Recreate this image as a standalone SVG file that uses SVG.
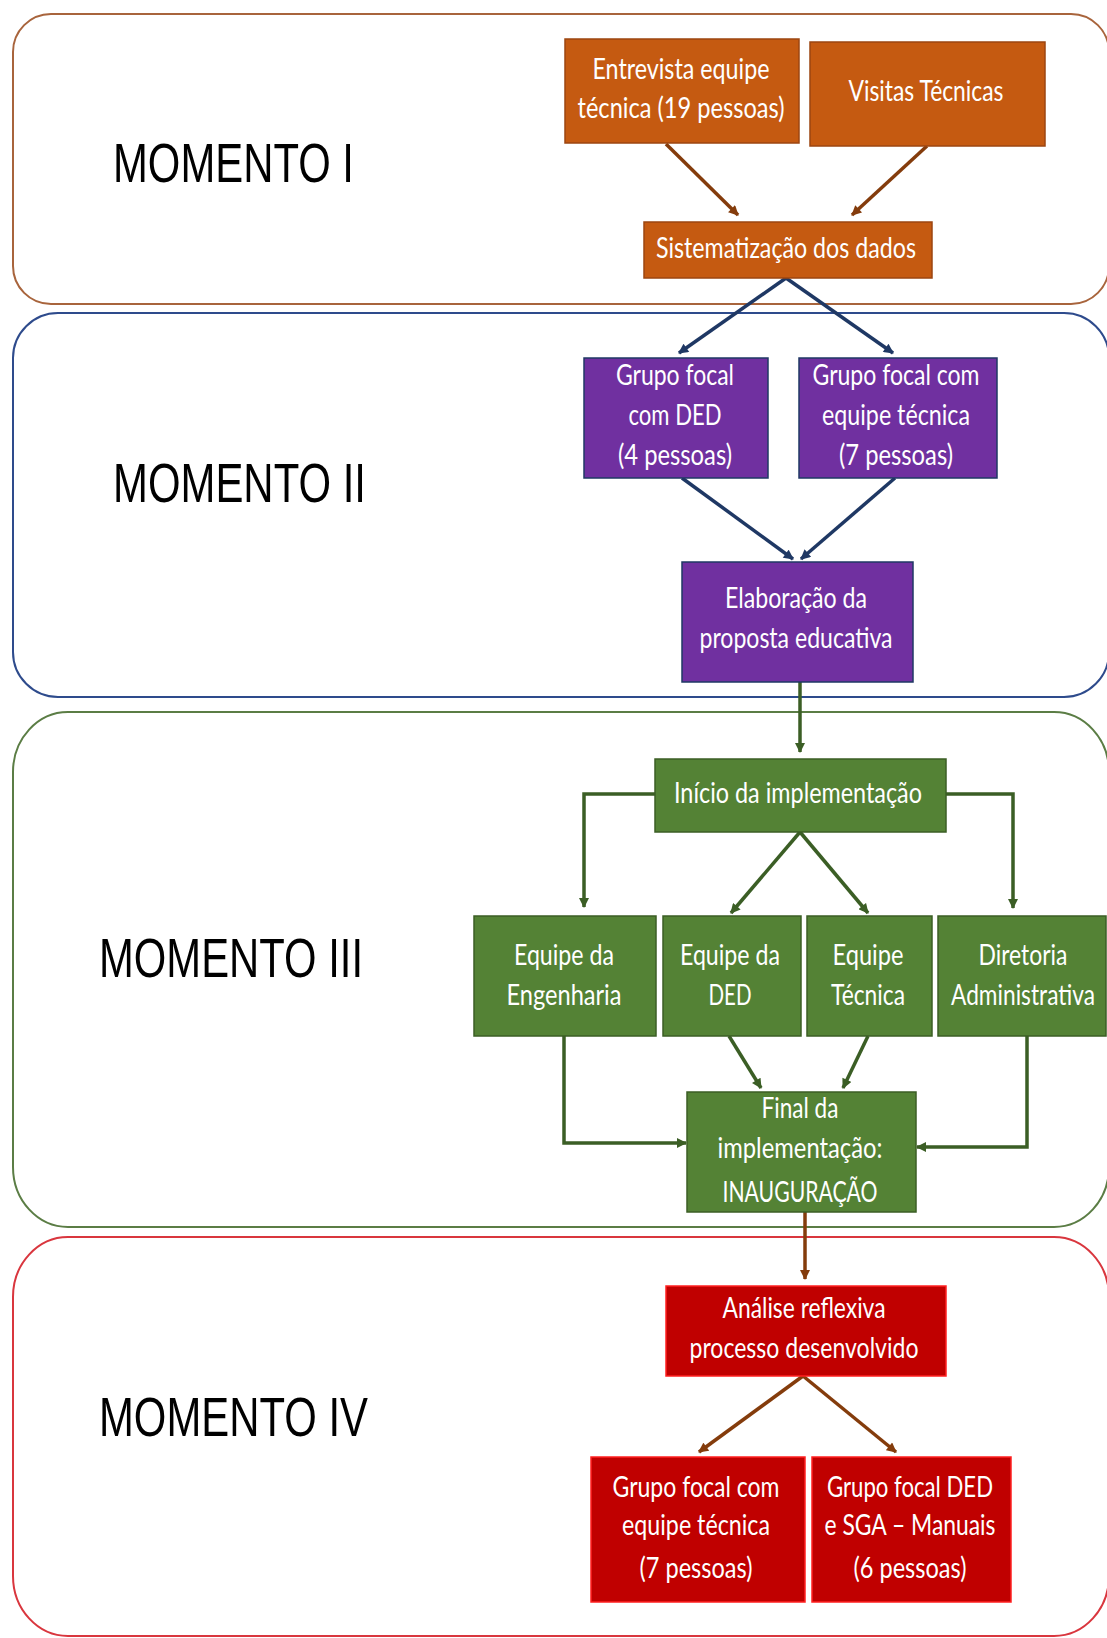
<svg xmlns="http://www.w3.org/2000/svg" width="1107" height="1638" viewBox="0 0 1107 1638">
<defs>
<style>
.frame{fill:#fff;stroke-width:2}
.lbl{font-family:"Liberation Sans",Arial,sans-serif;font-size:56px;fill:#000}
.t{font-family:Lato,"Open Sans",sans-serif;font-size:28px;fill:#fff;text-anchor:middle}
.or{fill:#C55A11;stroke:#9C4610;stroke-width:1.5}
.pu{fill:#7030A0;stroke:#1F3864;stroke-width:1.5}
.gr{fill:#548235;stroke:#3B5E25;stroke-width:1.5}
.rd{fill:#C00000;stroke:#FF2020;stroke-width:1.5}
.c{fill:none;stroke-width:3.5}
.cb{stroke:#843C0C}
.cn{stroke:#1F3864}
.cg{stroke:#3B5E25}
</style>
<marker id="ab" viewBox="0 0 10 10" refX="9" refY="5" markerWidth="11" markerHeight="10" markerUnits="userSpaceOnUse" orient="auto"><path d="M0,0 L10,5 L0,10 z" fill="#843C0C"/></marker>
<marker id="an" viewBox="0 0 10 10" refX="9" refY="5" markerWidth="11" markerHeight="10" markerUnits="userSpaceOnUse" orient="auto"><path d="M0,0 L10,5 L0,10 z" fill="#1F3864"/></marker>
<marker id="ag" viewBox="0 0 10 10" refX="9" refY="5" markerWidth="11" markerHeight="10" markerUnits="userSpaceOnUse" orient="auto"><path d="M0,0 L10,5 L0,10 z" fill="#3B5E25"/></marker>
</defs>
<rect width="1107" height="1638" fill="#fff"/>

<g id="momento-1">
<rect class="frame" x="13" y="14" width="1096" height="290" rx="38" ry="38" stroke="#A8643C"/>
<text class="lbl" x="113" y="182" textLength="241" lengthAdjust="spacingAndGlyphs">MOMENTO I</text>
</g>
<g id="momento-2">
<rect class="frame" x="13" y="313" width="1096" height="384" rx="45" ry="45" stroke="#2E4B8C"/>
<text class="lbl" x="113" y="502" textLength="253" lengthAdjust="spacingAndGlyphs">MOMENTO II</text>
</g>
<g id="momento-3">
<rect class="frame" x="13" y="712" width="1096" height="515" rx="55" ry="60" stroke="#5B7D45"/>
<text class="lbl" x="99" y="977" textLength="264" lengthAdjust="spacingAndGlyphs">MOMENTO III</text>
</g>
<g id="momento-4">
<rect class="frame" x="13" y="1237" width="1096" height="399" rx="55" ry="60" stroke="#D9363E"/>
<text class="lbl" x="99" y="1436" textLength="269" lengthAdjust="spacingAndGlyphs">MOMENTO IV</text>
</g>

<g id="connectors">
<line class="c cb" x1="666" y1="144" x2="738" y2="215" marker-end="url(#ab)"/>
<line class="c cb" x1="927" y1="146" x2="852" y2="215" marker-end="url(#ab)"/>
<line class="c cn" x1="786" y1="278" x2="679" y2="353" marker-end="url(#an)"/>
<line class="c cn" x1="786" y1="278" x2="893" y2="353" marker-end="url(#an)"/>
<line class="c cn" x1="682" y1="478" x2="793" y2="559" marker-end="url(#an)"/>
<line class="c cn" x1="895" y1="478" x2="801" y2="559" marker-end="url(#an)"/>
<line class="c cg" x1="800" y1="682" x2="800" y2="752" marker-end="url(#ag)"/>
<polyline class="c cg" points="655,794 584,794 584,907" marker-end="url(#ag)"/>
<polyline class="c cg" points="946,794 1013,794 1013,908" marker-end="url(#ag)"/>
<line class="c cg" x1="800" y1="832" x2="731" y2="913" marker-end="url(#ag)"/>
<line class="c cg" x1="800" y1="832" x2="868" y2="913" marker-end="url(#ag)"/>
<polyline class="c cg" points="564,1036 564,1143 686,1143" marker-end="url(#ag)"/>
<polyline class="c cg" points="1027,1036 1027,1147 917,1147" marker-end="url(#ag)"/>
<line class="c cg" x1="729" y1="1036" x2="761" y2="1088" marker-end="url(#ag)"/>
<line class="c cg" x1="868" y1="1036" x2="843" y2="1088" marker-end="url(#ag)"/>
<line class="c cb" x1="805" y1="1212" x2="805" y2="1279" marker-end="url(#ab)"/>
<line class="c cb" x1="803" y1="1376" x2="699" y2="1452" marker-end="url(#ab)"/>
<line class="c cb" x1="803" y1="1376" x2="896" y2="1452" marker-end="url(#ab)"/>
</g>

<g id="entrevista">
<rect class="or" x="565" y="39" width="234" height="104"/>
<text class="t" x="681" y="79" textLength="177" lengthAdjust="spacingAndGlyphs">Entrevista equipe</text>
<text class="t" x="681" y="118" textLength="207" lengthAdjust="spacingAndGlyphs">técnica (19 pessoas)</text>
</g>
<g id="visitas">
<rect class="or" x="810" y="42" width="235" height="104"/>
<text class="t" x="926" y="101" textLength="155" lengthAdjust="spacingAndGlyphs">Visitas Técnicas</text>
</g>
<g id="sistematizacao">
<rect class="or" x="644" y="222" width="288" height="56"/>
<text class="t" x="786" y="258" textLength="260" lengthAdjust="spacingAndGlyphs">Sistematização dos dados</text>
</g>
<g id="grupo-ded">
<rect class="pu" x="584" y="358" width="184" height="120"/>
<text class="t" x="675" y="385" textLength="118" lengthAdjust="spacingAndGlyphs">Grupo focal</text>
<text class="t" x="675" y="425" textLength="93" lengthAdjust="spacingAndGlyphs">com DED</text>
<text class="t" x="675" y="465" textLength="114" lengthAdjust="spacingAndGlyphs">(4 pessoas)</text>
</g>
<g id="grupo-equipe">
<rect class="pu" x="799" y="358" width="198" height="120"/>
<text class="t" x="896" y="385" textLength="167" lengthAdjust="spacingAndGlyphs">Grupo focal com</text>
<text class="t" x="896" y="425" textLength="148" lengthAdjust="spacingAndGlyphs">equipe técnica</text>
<text class="t" x="896" y="465" textLength="114" lengthAdjust="spacingAndGlyphs">(7 pessoas)</text>
</g>
<g id="elaboracao">
<rect class="pu" x="682" y="562" width="231" height="120"/>
<text class="t" x="796" y="608" textLength="142" lengthAdjust="spacingAndGlyphs">Elaboração da</text>
<text class="t" x="796" y="648" textLength="193" lengthAdjust="spacingAndGlyphs">proposta educativa</text>
</g>
<g id="inicio">
<rect class="gr" x="655" y="759" width="291" height="73"/>
<text class="t" x="798" y="803" textLength="248" lengthAdjust="spacingAndGlyphs">Início da implementação</text>
</g>
<g id="engenharia">
<rect class="gr" x="474" y="916" width="182" height="120"/>
<text class="t" x="564" y="965" textLength="100" lengthAdjust="spacingAndGlyphs">Equipe da</text>
<text class="t" x="564" y="1005" textLength="115" lengthAdjust="spacingAndGlyphs">Engenharia</text>
</g>
<g id="equipe-ded">
<rect class="gr" x="663" y="916" width="138" height="120"/>
<text class="t" x="730" y="965" textLength="100" lengthAdjust="spacingAndGlyphs">Equipe da</text>
<text class="t" x="730" y="1005" textLength="43" lengthAdjust="spacingAndGlyphs">DED</text>
</g>
<g id="equipe-tecnica">
<rect class="gr" x="807" y="916" width="125" height="120"/>
<text class="t" x="868" y="965" textLength="71" lengthAdjust="spacingAndGlyphs">Equipe</text>
<text class="t" x="868" y="1005" textLength="74" lengthAdjust="spacingAndGlyphs">Técnica</text>
</g>
<g id="diretoria">
<rect class="gr" x="938" y="916" width="168" height="120"/>
<text class="t" x="1023" y="965" textLength="89" lengthAdjust="spacingAndGlyphs">Diretoria</text>
<text class="t" transform="translate(1023,1005) scale(0.8,1)" x="0" y="0" textLength="180" lengthAdjust="spacingAndGlyphs">Administrativa</text>
</g>
<g id="final">
<rect class="gr" x="687" y="1092" width="229" height="120"/>
<text class="t" x="800" y="1118" textLength="77" lengthAdjust="spacingAndGlyphs">Final da</text>
<text class="t" x="800" y="1158" textLength="165" lengthAdjust="spacingAndGlyphs">implementação:</text>
<text class="t" x="800" y="1202" textLength="155" lengthAdjust="spacingAndGlyphs">INAUGURAÇÃO</text>
</g>
<g id="analise">
<rect class="rd" x="666" y="1286" width="280" height="90"/>
<text class="t" x="804" y="1318" textLength="163" lengthAdjust="spacingAndGlyphs">Análise reflexiva</text>
<text class="t" x="804" y="1358" textLength="229" lengthAdjust="spacingAndGlyphs">processo desenvolvido</text>
</g>
<g id="grupo-equipe-2">
<rect class="rd" x="591" y="1457" width="214" height="145"/>
<text class="t" x="696" y="1497" textLength="167" lengthAdjust="spacingAndGlyphs">Grupo focal com</text>
<text class="t" x="696" y="1535" textLength="148" lengthAdjust="spacingAndGlyphs">equipe técnica</text>
<text class="t" x="696" y="1578" textLength="113" lengthAdjust="spacingAndGlyphs">(7 pessoas)</text>
</g>
<g id="grupo-ded-sga">
<rect class="rd" x="812" y="1457" width="199" height="145"/>
<text class="t" x="910" y="1497" textLength="166" lengthAdjust="spacingAndGlyphs">Grupo focal DED</text>
<text class="t" x="910" y="1535" textLength="171" lengthAdjust="spacingAndGlyphs">e SGA – Manuais</text>
<text class="t" x="910" y="1578" textLength="113" lengthAdjust="spacingAndGlyphs">(6 pessoas)</text>
</g>
</svg>
